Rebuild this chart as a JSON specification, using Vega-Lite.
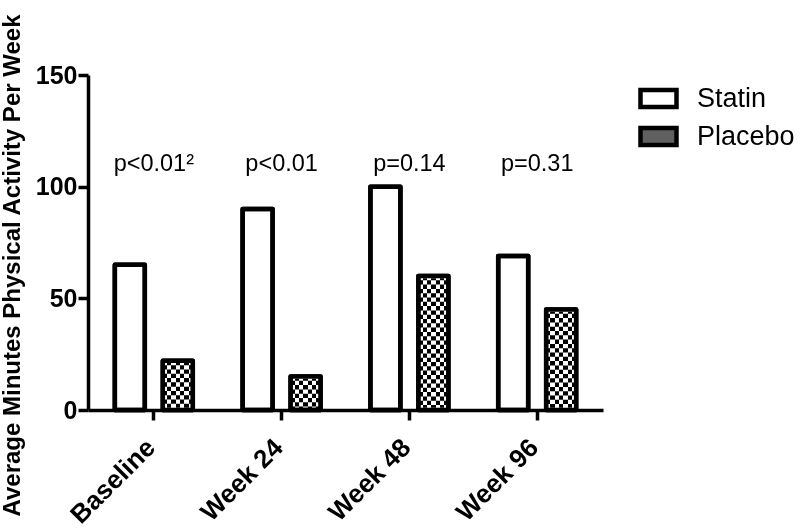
{
  "$schema": "https://vega.github.io/schema/vega-lite/v6.json",
  "autosize": "none",
  "width": 515,
  "height": 335,
  "padding": {"left": 88, "top": 75, "right": 197, "bottom": 122},
  "background": "white",
  "config": {
    "font": "Liberation Sans",
    "view": {"stroke": null},
    "axis": {"labelColor": "black", "domainColor": "black", "tickColor": "black", "titleColor": "black", "grid": false}
  },
  "datasets": {
    "bars": [
      {"time": "Baseline", "group": "Statin", "value": 65},
      {"time": "Baseline", "group": "Placebo", "value": 22},
      {"time": "Week 24", "group": "Statin", "value": 90},
      {"time": "Week 24", "group": "Placebo", "value": 15},
      {"time": "Week 48", "group": "Statin", "value": 100},
      {"time": "Week 48", "group": "Placebo", "value": 60},
      {"time": "Week 96", "group": "Statin", "value": 69},
      {"time": "Week 96", "group": "Placebo", "value": 45}
    ],
    "pvals": [
      {"time": "Baseline", "label": "p<0.01²"},
      {"time": "Week 24", "label": "p<0.01"},
      {"time": "Week 48", "label": "p=0.14"},
      {"time": "Week 96", "label": "p=0.31"}
    ]
  },
  "layer": [
    {
      "data": {"name": "pvals"},
      "mark": {"type": "text", "fontSize": 23.5, "font": "Liberation Sans", "fill": "black", "align": "center", "baseline": "alphabetic"},
      "encoding": {
        "x": {
          "field": "time", "type": "nominal", "sort": ["Baseline", "Week 24", "Week 48", "Week 96"],
          "scale": {"paddingInner": 0.39, "paddingOuter": 0.21},
          "axis": {"title": null, "labelAngle": -45, "labelAlign": "right", "labelBaseline": "top", "labelFontSize": 26, "labelFontWeight": "bold", "labelPadding": 14, "labelOffset": -12, "tickSize": 10, "tickWidth": 3.5, "domainWidth": 3.5, "zindex": 2}
        },
        "y": {
          "datum": 107, "type": "quantitative",
          "scale": {"domain": [0, 150], "nice": false, "zero": true},
          "axis": {"values": [0, 50, 100, 150], "title": "Average Minutes Physical Activity Per Week", "titleFontSize": 24, "titleFontWeight": "bold", "titleAngle": -90, "titleAlign": "center", "titleBaseline": "alphabetic", "titleX": -69, "titleY": 190, "labelFontSize": 25, "labelFontWeight": "bold", "labelPadding": 1, "tickSize": 10, "tickWidth": 3.5, "domainWidth": 3.5, "zindex": 2}
        },
        "text": {"field": "label", "type": "nominal"}
      }
    },
    {
      "data": {"name": "bars"},
      "encoding": {
        "x": {"field": "time", "type": "nominal", "sort": ["Baseline", "Week 24", "Week 48", "Week 96"]},
        "y": {"field": "value", "type": "quantitative"},
        "xOffset": {"field": "group", "type": "nominal", "sort": ["Statin", "Placebo"], "scale": {"domain": ["Statin", "Placebo"], "paddingInner": 0.375, "paddingOuter": 0}}
      },
      "layer": [
        {
          "mark": {"type": "bar", "opacity": 0},
          "encoding": {
            "fill": {
              "field": "group", "type": "nominal",
              "scale": {"domain": ["Statin", "Placebo"], "range": ["white", "#606060"]},
              "legend": {
                "orient": "none", "legendX": 550, "legendY": 3, "title": null, "padding": 0,
                "symbolType": "M-1,-0.47H1V0.47H-1Z", "symbolSize": 1296, "symbolStrokeWidth": 4.5, "symbolStrokeColor": "black", "symbolOpacity": 1,
                "labelFontSize": 27, "labelFont": "Liberation Sans", "labelColor": "black", "labelOffset": 18, "rowPadding": 0
              }
            }
          }
        },
        {
          "transform": [{"filter": "datum.group === 'Statin'"}],
          "mark": {"type": "bar", "fill": "white", "fillOpacity": 1, "stroke": "black", "strokeWidth": 4.5, "strokeJoin": "round"}
        },
        {
          "transform": [{"filter": "datum.group === 'Placebo'"}],
          "mark": {"type": "bar", "fillOpacity": 1, "stroke": "black", "strokeWidth": 4.5, "strokeJoin": "round",
            "fill": {"gradient": "linear", "x1": 0, "y1": 0, "x2": 1, "y2": 0, "stops": [
              {"offset": 0, "color": "black"}, {"offset": 0.1429, "color": "black"},
              {"offset": 0.1429, "color": "white"}, {"offset": 0.2857, "color": "white"},
              {"offset": 0.2857, "color": "black"}, {"offset": 0.4286, "color": "black"},
              {"offset": 0.4286, "color": "white"}, {"offset": 0.5714, "color": "white"},
              {"offset": 0.5714, "color": "black"}, {"offset": 0.7143, "color": "black"},
              {"offset": 0.7143, "color": "white"}, {"offset": 0.8571, "color": "white"},
              {"offset": 0.8571, "color": "black"}, {"offset": 1, "color": "black"}]}}
        },
        {
          "transform": [{"filter": "datum.group === 'Placebo'"}],
          "mark": {"type": "rule", "stroke": "white", "strokeWidth": 26, "strokeDash": [4.3, 4.3], "blend": "difference"},
          "encoding": {
            "y2": {"datum": 0}
          }
        },
        {
          "mark": {"type": "bar", "fill": "white", "fillOpacity": 0, "stroke": "black", "strokeWidth": 4.5, "strokeJoin": "round"},
          "encoding": {}
        }
      ]
    }
  ]
}
